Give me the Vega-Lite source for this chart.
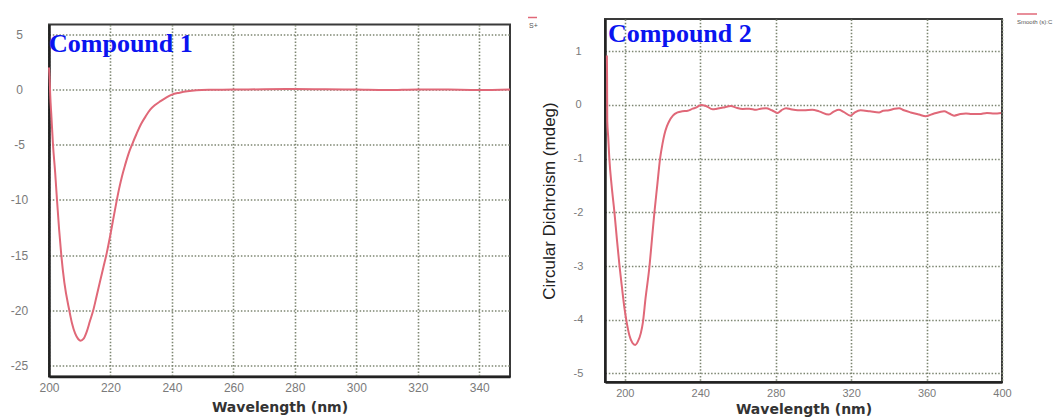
{
  "$schema": "https://vega.github.io/schema/vega-lite/v6.json",
  "background": "white",
  "padding": {"left": 9, "top": 7, "right": 0, "bottom": 0},
  "spacing": 95,
  "bounds": "flush",
  "center": true,
  "resolve": {"scale": {"color": "independent"}, "legend": {"color": "independent"}},
  "config": {
    "view": {"stroke": "#3a3a3a", "strokeWidth": 2},
    "axis": {
      "grid": true, "gridColor": "#7d8672", "gridDash": [1.5, 1.8], "gridWidth": 1.6,
      "ticks": false, "tickSize": 0, "labelFlush": false,
      "labelExpr": "'' + datum.value",
      "domainColor": "#222222", "domainWidth": 2.5,
      "labelColor": "#7a7a7a", "labelFont": "Liberation Sans", "labelFontSize": 12,
      "titleFont": "DejaVu Sans", "titleFontWeight": "bold", "titleFontSize": 14, "titleColor": "#333333"
    },
    "legend": {"padding": 0, "title": null}
  },
  "hconcat": [
    {
      "width": 461,
      "height": 352,
      "layer": [
        {
          "data": {"values": [
            {"wl": 200, "cd": 2.0, "s": "S+"},
            {"wl": 200.2, "cd": 1.0, "s": "S+"},
            {"wl": 200.4, "cd": -0.5, "s": "S+"},
            {"wl": 200.8, "cd": -2.5, "s": "S+"},
            {"wl": 201.3, "cd": -5, "s": "S+"},
            {"wl": 202, "cd": -7.5, "s": "S+"},
            {"wl": 202.6, "cd": -10, "s": "S+"},
            {"wl": 203.3, "cd": -12.7, "s": "S+"},
            {"wl": 204, "cd": -15, "s": "S+"},
            {"wl": 205, "cd": -17.5, "s": "S+"},
            {"wl": 206.6, "cd": -20, "s": "S+"},
            {"wl": 207.5, "cd": -21.2, "s": "S+"},
            {"wl": 208.5, "cd": -22.1, "s": "S+"},
            {"wl": 209.5, "cd": -22.6, "s": "S+"},
            {"wl": 210.3, "cd": -22.75, "s": "S+"},
            {"wl": 211.2, "cd": -22.6, "s": "S+"},
            {"wl": 212.2, "cd": -22.0, "s": "S+"},
            {"wl": 213.3, "cd": -21.0, "s": "S+"},
            {"wl": 214.4, "cd": -20.0, "s": "S+"},
            {"wl": 215.5, "cd": -18.7, "s": "S+"},
            {"wl": 216.6, "cd": -17.4, "s": "S+"},
            {"wl": 217.7, "cd": -16.1, "s": "S+"},
            {"wl": 218.8, "cd": -14.8, "s": "S+"},
            {"wl": 219.8, "cd": -13.4, "s": "S+"},
            {"wl": 220.8, "cd": -11.9, "s": "S+"},
            {"wl": 221.8, "cd": -10.4, "s": "S+"},
            {"wl": 222.8, "cd": -9.0, "s": "S+"},
            {"wl": 223.8, "cd": -7.8, "s": "S+"},
            {"wl": 224.8, "cd": -6.8, "s": "S+"},
            {"wl": 225.9, "cd": -5.8, "s": "S+"},
            {"wl": 227, "cd": -5.0, "s": "S+"},
            {"wl": 228.5, "cd": -4.0, "s": "S+"},
            {"wl": 230, "cd": -3.1, "s": "S+"},
            {"wl": 231.5, "cd": -2.4, "s": "S+"},
            {"wl": 233, "cd": -1.8, "s": "S+"},
            {"wl": 234.5, "cd": -1.4, "s": "S+"},
            {"wl": 236.3, "cd": -1.05, "s": "S+"},
            {"wl": 238, "cd": -0.75, "s": "S+"},
            {"wl": 240, "cd": -0.45, "s": "S+"},
            {"wl": 242.5, "cd": -0.28, "s": "S+"},
            {"wl": 245, "cd": -0.15, "s": "S+"},
            {"wl": 248, "cd": -0.06, "s": "S+"},
            {"wl": 252, "cd": -0.02, "s": "S+"},
            {"wl": 260, "cd": 0.0, "s": "S+"},
            {"wl": 270, "cd": 0.03, "s": "S+"},
            {"wl": 280, "cd": 0.05, "s": "S+"},
            {"wl": 290, "cd": 0.03, "s": "S+"},
            {"wl": 300, "cd": 0.0, "s": "S+"},
            {"wl": 310, "cd": -0.04, "s": "S+"},
            {"wl": 320, "cd": 0.02, "s": "S+"},
            {"wl": 330, "cd": 0.0, "s": "S+"},
            {"wl": 340, "cd": -0.03, "s": "S+"},
            {"wl": 350, "cd": 0.02, "s": "S+"}
          ]},
          "mark": {"type": "line", "interpolate": "monotone", "strokeWidth": 2},
          "encoding": {
            "x": {"field": "wl", "type": "quantitative",
              "scale": {"domain": [200, 350], "nice": false, "zero": false},
              "axis": {"values": [200, 220, 240, 260, 280, 300, 320, 340], "title": "Wavelength (nm)", "labelPadding": 6, "titlePadding": 7}},
            "y": {"field": "cd", "type": "quantitative",
              "scale": {"domain": [-26, 5.9], "nice": false, "zero": false},
              "axis": {"values": [-25, -20, -15, -10, -5, 0, 5], "title": null, "labelAlign": "center", "labelPadding": 30}},
            "color": {"field": "s", "type": "nominal",
              "scale": {"range": ["#e06878"]},
              "legend": {"orient": "none", "legendX": 478, "legendY": -8, "symbolType": "M-1,-1H1", "symbolSize": 81, "symbolStrokeWidth": 1.5, "labelFontSize": 7, "labelColor": "#555555", "labelBaseline": "top", "labelOffset": -9}}
          }
        },
        {
          "data": {"values": [{"label": "Compound 1"}]},
          "mark": {"type": "text", "font": "Liberation Serif", "fontWeight": "bold", "fontSize": 26, "color": "#0a14f0", "align": "left", "baseline": "alphabetic"},
          "encoding": {
            "text": {"field": "label"},
            "x": {"datum": 200, "type": "quantitative"},
            "y": {"datum": 3.4, "type": "quantitative"}
          }
        }
      ]
    },
    {
      "width": 397,
      "height": 363,
      "layer": [
        {
          "data": {"values": [
            {"wl": 190.5, "cd": 0.92, "s": "Smooth (s):C"},
            {"wl": 190.6, "cd": 0.5, "s": "Smooth (s):C"},
            {"wl": 190.7, "cd": -0.3, "s": "Smooth (s):C"},
            {"wl": 191.2, "cd": -0.6, "s": "Smooth (s):C"},
            {"wl": 191.8, "cd": -1.0, "s": "Smooth (s):C"},
            {"wl": 193, "cd": -1.5, "s": "Smooth (s):C"},
            {"wl": 194.5, "cd": -2.0, "s": "Smooth (s):C"},
            {"wl": 195.8, "cd": -2.5, "s": "Smooth (s):C"},
            {"wl": 197.2, "cd": -3.0, "s": "Smooth (s):C"},
            {"wl": 198.5, "cd": -3.4, "s": "Smooth (s):C"},
            {"wl": 199.8, "cd": -3.78, "s": "Smooth (s):C"},
            {"wl": 201, "cd": -4.05, "s": "Smooth (s):C"},
            {"wl": 202.5, "cd": -4.3, "s": "Smooth (s):C"},
            {"wl": 204, "cd": -4.43, "s": "Smooth (s):C"},
            {"wl": 205.5, "cd": -4.47, "s": "Smooth (s):C"},
            {"wl": 207, "cd": -4.4, "s": "Smooth (s):C"},
            {"wl": 208.5, "cd": -4.25, "s": "Smooth (s):C"},
            {"wl": 209.6, "cd": -4.05, "s": "Smooth (s):C"},
            {"wl": 211, "cd": -3.6, "s": "Smooth (s):C"},
            {"wl": 213.1, "cd": -3.0, "s": "Smooth (s):C"},
            {"wl": 214.4, "cd": -2.5, "s": "Smooth (s):C"},
            {"wl": 215.7, "cd": -2.0, "s": "Smooth (s):C"},
            {"wl": 217.2, "cd": -1.5, "s": "Smooth (s):C"},
            {"wl": 218.7, "cd": -1.0, "s": "Smooth (s):C"},
            {"wl": 220, "cd": -0.72, "s": "Smooth (s):C"},
            {"wl": 221, "cd": -0.55, "s": "Smooth (s):C"},
            {"wl": 222.3, "cd": -0.4, "s": "Smooth (s):C"},
            {"wl": 223.6, "cd": -0.3, "s": "Smooth (s):C"},
            {"wl": 225.5, "cd": -0.2, "s": "Smooth (s):C"},
            {"wl": 228, "cd": -0.14, "s": "Smooth (s):C"},
            {"wl": 230.5, "cd": -0.12, "s": "Smooth (s):C"},
            {"wl": 233.4, "cd": -0.11, "s": "Smooth (s):C"},
            {"wl": 236, "cd": -0.07, "s": "Smooth (s):C"},
            {"wl": 237.8, "cd": -0.05, "s": "Smooth (s):C"},
            {"wl": 240.4, "cd": 0.0, "s": "Smooth (s):C"},
            {"wl": 243, "cd": -0.02, "s": "Smooth (s):C"},
            {"wl": 246.6, "cd": -0.08, "s": "Smooth (s):C"},
            {"wl": 248.3, "cd": -0.075, "s": "Smooth (s):C"},
            {"wl": 252, "cd": -0.05, "s": "Smooth (s):C"},
            {"wl": 256.3, "cd": -0.02, "s": "Smooth (s):C"},
            {"wl": 259, "cd": -0.05, "s": "Smooth (s):C"},
            {"wl": 262.5, "cd": -0.075, "s": "Smooth (s):C"},
            {"wl": 266, "cd": -0.07, "s": "Smooth (s):C"},
            {"wl": 269.6, "cd": -0.09, "s": "Smooth (s):C"},
            {"wl": 272, "cd": -0.07, "s": "Smooth (s):C"},
            {"wl": 274.9, "cd": -0.06, "s": "Smooth (s):C"},
            {"wl": 278, "cd": -0.1, "s": "Smooth (s):C"},
            {"wl": 281, "cd": -0.15, "s": "Smooth (s):C"},
            {"wl": 283, "cd": -0.1, "s": "Smooth (s):C"},
            {"wl": 285.5, "cd": -0.06, "s": "Smooth (s):C"},
            {"wl": 288, "cd": -0.08, "s": "Smooth (s):C"},
            {"wl": 291.7, "cd": -0.1, "s": "Smooth (s):C"},
            {"wl": 295, "cd": -0.1, "s": "Smooth (s):C"},
            {"wl": 299.4, "cd": -0.09, "s": "Smooth (s):C"},
            {"wl": 303, "cd": -0.12, "s": "Smooth (s):C"},
            {"wl": 308.2, "cd": -0.18, "s": "Smooth (s):C"},
            {"wl": 311, "cd": -0.12, "s": "Smooth (s):C"},
            {"wl": 313.5, "cd": -0.09, "s": "Smooth (s):C"},
            {"wl": 316, "cd": -0.13, "s": "Smooth (s):C"},
            {"wl": 319.7, "cd": -0.2, "s": "Smooth (s):C"},
            {"wl": 322, "cd": -0.14, "s": "Smooth (s):C"},
            {"wl": 325, "cd": -0.1, "s": "Smooth (s):C"},
            {"wl": 330, "cd": -0.12, "s": "Smooth (s):C"},
            {"wl": 334.8, "cd": -0.14, "s": "Smooth (s):C"},
            {"wl": 337, "cd": -0.11, "s": "Smooth (s):C"},
            {"wl": 340.1, "cd": -0.1, "s": "Smooth (s):C"},
            {"wl": 343, "cd": -0.07, "s": "Smooth (s):C"},
            {"wl": 345.4, "cd": -0.06, "s": "Smooth (s):C"},
            {"wl": 348, "cd": -0.1, "s": "Smooth (s):C"},
            {"wl": 351.6, "cd": -0.14, "s": "Smooth (s):C"},
            {"wl": 356, "cd": -0.18, "s": "Smooth (s):C"},
            {"wl": 359.6, "cd": -0.21, "s": "Smooth (s):C"},
            {"wl": 364, "cd": -0.16, "s": "Smooth (s):C"},
            {"wl": 369.3, "cd": -0.12, "s": "Smooth (s):C"},
            {"wl": 372, "cd": -0.16, "s": "Smooth (s):C"},
            {"wl": 374.6, "cd": -0.2, "s": "Smooth (s):C"},
            {"wl": 378, "cd": -0.17, "s": "Smooth (s):C"},
            {"wl": 380.9, "cd": -0.16, "s": "Smooth (s):C"},
            {"wl": 384, "cd": -0.17, "s": "Smooth (s):C"},
            {"wl": 388, "cd": -0.17, "s": "Smooth (s):C"},
            {"wl": 392, "cd": -0.15, "s": "Smooth (s):C"},
            {"wl": 396, "cd": -0.16, "s": "Smooth (s):C"},
            {"wl": 399.5, "cd": -0.15, "s": "Smooth (s):C"}
          ]},
          "mark": {"type": "line", "interpolate": "monotone", "strokeWidth": 2},
          "encoding": {
            "x": {"field": "wl", "type": "quantitative",
              "scale": {"domain": [189.5, 400], "nice": false, "zero": false},
              "axis": {"values": [200, 220, 240, 260, 280, 300, 320, 340, 360, 380, 400], "title": "Wavelength (nm)", "labelPadding": 5, "labelFontSize": 11, "titlePadding": 4}},
            "y": {"field": "cd", "type": "quantitative",
              "scale": {"domain": [-5.16, 1.6], "nice": false, "zero": false},
              "axis": {"values": [-5, -4, -3, -2, -1, 0, 1], "title": "Circular Dichroism (mdeg)", "labelAlign": "center", "labelPadding": 27, "labelFontSize": 11, "titleFont": "Liberation Sans", "titleFontWeight": "normal", "titleFontSize": 17, "titleColor": "#222222", "titlePadding": 15}},
            "color": {"field": "s", "type": "nominal",
              "scale": {"range": ["#e06878"]},
              "legend": {"orient": "none", "legendX": 411, "legendY": -11, "symbolType": "M-1,-0.5H1", "symbolSize": 400, "symbolStrokeWidth": 1.5, "labelFontSize": 6, "labelColor": "#555555", "labelBaseline": "top", "labelOffset": -21}}
          }
        },
        {
          "data": {"values": [{"label": "Compound 2"}]},
          "mark": {"type": "text", "font": "Liberation Serif", "fontWeight": "bold", "fontSize": 26, "color": "#0a14f0", "align": "left", "baseline": "alphabetic"},
          "encoding": {
            "text": {"field": "label"},
            "x": {"datum": 191.1, "type": "quantitative"},
            "y": {"datum": 1.17, "type": "quantitative"}
          }
        }
      ]
    }
  ]
}
